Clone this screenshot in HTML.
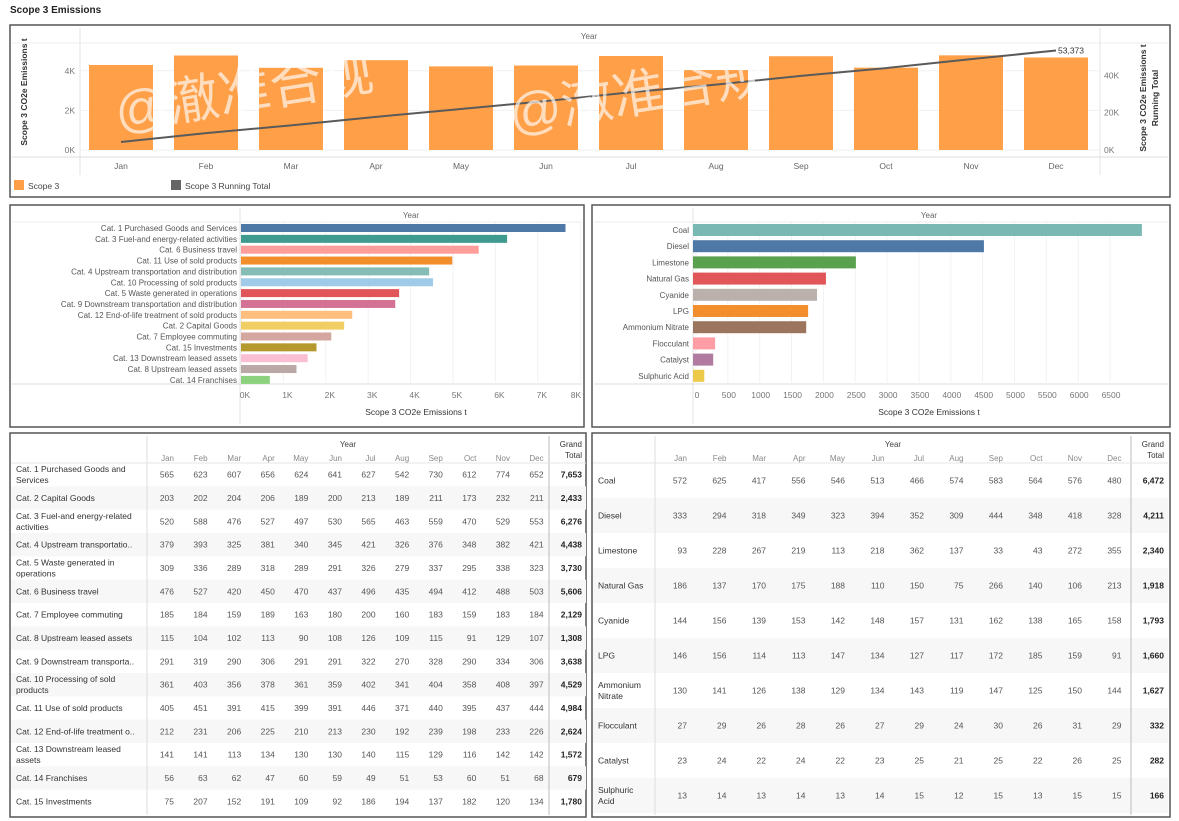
<!DOCTYPE html>
<html><head><meta charset="utf-8">
<style>
html,body{margin:0;padding:0;background:#fff;}
svg{display:block;font-family:"Liberation Sans","Noto Sans CJK SC",sans-serif;}
</style></head>
<body>
<svg id="s" width="1179" height="821" viewBox="0 0 1179 821">
<text x="10" y="13" font-size="10" font-weight="bold" fill="#222">Scope 3 Emissions</text>
</svg>
<script>
const months = ['Jan','Feb','Mar','Apr','May','Jun','Jul','Aug','Sep','Oct','Nov','Dec'];
const catLabels = ['Cat. 1 Purchased Goods and\nServices','Cat. 2 Capital Goods','Cat. 3 Fuel-and energy-related\nactivities','Cat. 4 Upstream transportatio..','Cat. 5 Waste generated in\noperations','Cat. 6 Business travel','Cat. 7 Employee commuting','Cat. 8 Upstream leased assets','Cat. 9 Downstream transporta..','Cat. 10 Processing of sold\nproducts','Cat. 11 Use of sold products','Cat. 12 End-of-life treatment o..','Cat. 13 Downstream leased\nassets','Cat. 14 Franchises','Cat. 15 Investments'];
const catValues = [
[565,623,607,656,624,641,627,542,730,612,774,652],
[203,202,204,206,189,200,213,189,211,173,232,211],
[520,588,476,527,497,530,565,463,559,470,529,553],
[379,393,325,381,340,345,421,326,376,348,382,421],
[309,336,289,318,289,291,326,279,337,295,338,323],
[476,527,420,450,470,437,496,435,494,412,488,503],
[185,184,159,189,163,180,200,160,183,159,183,184],
[115,104,102,113,90,108,126,109,115,91,129,107],
[291,319,290,306,291,291,322,270,328,290,334,306],
[361,403,356,378,361,359,402,341,404,358,408,397],
[405,451,391,415,399,391,446,371,440,395,437,444],
[212,231,206,225,210,213,230,192,239,198,233,226],
[141,141,113,134,130,130,140,115,129,116,142,142],
[56,63,62,47,60,59,49,51,53,60,51,68],
[75,207,152,191,109,92,186,194,137,182,120,134]];
const catTotals = ['7,653','2,433','6,276','4,438','3,730','5,606','2,129','1,308','3,638','4,529','4,984','2,624','1,572','679','1,780'];
const barCats = ['Cat. 1 Purchased Goods and Services','Cat. 3 Fuel-and energy-related activities','Cat. 6 Business travel','Cat. 11 Use of sold products','Cat. 4 Upstream transportation and distribution','Cat. 10 Processing of sold products','Cat. 5 Waste generated in operations','Cat. 9 Downstream transportation and distribution','Cat. 12 End-of-life treatment of sold products','Cat. 2 Capital Goods','Cat. 7 Employee commuting','Cat. 15 Investments','Cat. 13 Downstream leased assets','Cat. 8 Upstream leased assets','Cat. 14 Franchises'];
const barCatValues = [7653,6276,5606,4984,4438,4529,3730,3638,2624,2433,2129,1780,1572,1308,679];
const barCatColors = ['#4e79a7','#3f9a8f','#ff9d9a','#f28e2b','#86bcb6','#a0cbe8','#e15759','#d37295','#ffbe7d','#f1ce63','#d4a6a0','#b6992d','#fabfd2','#b9a8a5','#8cd17d'];
const catTicks = ['0K','1K','2K','3K','4K','5K','6K','7K','8K'];
const fuelLabels = ['Coal','Diesel','Limestone','Natural Gas','Cyanide','LPG','Ammonium\nNitrate','Flocculant','Catalyst','Sulphuric\nAcid'];
const fuelBarLabels = ['Coal','Diesel','Limestone','Natural Gas','Cyanide','LPG','Ammonium Nitrate','Flocculant','Catalyst','Sulphuric Acid'];
const fuelBarValues = [7000,4520,2510,2040,1900,1760,1730,300,270,130];
const fuelColors = ['#7ab8b3','#4e79a7','#59a14f','#e15759','#bab0ac','#f28e2b','#9c755f','#ff9da7','#b07aa1','#edc948'];
const fuelTicks = [0,500,1000,1500,2000,2500,3000,3500,4000,4500,5000,5500,6000,6500];
const fuelValues = [
[572,625,417,556,546,513,466,574,583,564,576,480],
[333,294,318,349,323,394,352,309,444,348,418,328],
[93,228,267,219,113,218,362,137,33,43,272,355],
[186,137,170,175,188,110,150,75,266,140,106,213],
[144,156,139,153,142,148,157,131,162,138,165,158],
[146,156,114,113,147,134,127,117,172,185,159,91],
[130,141,126,138,129,134,143,119,147,125,150,144],
[27,29,26,28,26,27,29,24,30,26,31,29],
[23,24,22,24,22,23,25,21,25,22,26,25],
[13,14,13,14,13,14,15,12,15,13,15,15]];
const fuelTotals = ['6,472','4,211','2,340','1,918','1,793','1,660','1,627','332','282','166'];
const topTicksLeft = ['0K','2K','4K'];
const topTicksRight = ['0K','20K','40K'];

const NS='http://www.w3.org/2000/svg';
const svg=document.getElementById('s');
function mk(tag,attrs,parent){const e=document.createElementNS(NS,tag);for(const k in attrs)e.setAttribute(k,attrs[k]);(parent||svg).appendChild(e);return e;}
function txt(x,y,s,size,fill,anchor,weight){const e=mk('text',{x:x,y:y,'font-size':size,fill:fill,'text-anchor':anchor||'start','font-weight':weight||'normal'});
 const lines=String(s).split('\n');if(lines.length==1){e.textContent=s;}else{lines.forEach((l,i)=>{const t=mk('tspan',{x:x,dy:i==0?-(lines.length-1)*5.5:11},e);t.textContent=l;});}return e;}
function line(x1,y1,x2,y2,c,w){return mk('line',{x1:x1,y1:y1,x2:x2,y2:y2,stroke:c,'stroke-width':w||1});}

[[10,25,1160,172,'top-panel'],[10,205,574,222,'category-chart-panel'],[592,205,578,222,'fuel-chart-panel'],[10,433,576,384,'category-table-panel'],[592,433,578,384,'fuel-table-panel']].forEach(p=>{
 const r=mk('rect',{x:p[0],y:p[1],width:p[2],height:p[3],fill:'#fff',stroke:'#555','stroke-width':1.5});
 
 
});

// top chart
const monthTotals = months.map((m,i)=>catValues.reduce((a,r)=>a+r[i],0));
const yL = v=>150 - v/1000*19.8;
const yR = v=>150 - v/1000*1.865;
const xM = i=>121 + i*85;
line(80,28,80,175,'#e3e3e3');line(1100,28,1100,175,'#e3e3e3');
line(12,43,1168,43,'#ececec');line(12,157,1168,157,'#ddd');
[0,2000,4000].forEach(v=>line(80,yL(v),1100,yL(v),'#f0f0f0'));
txt(589,39,'Year',8,'#666','middle');
topTicksLeft.forEach((t,i)=>txt(75,yL(i*2000)+3,t,8.5,'#777','end'));
topTicksRight.forEach((t,i)=>txt(1104,yR(i*20000)+3,t,8.5,'#777','start'));
const lt=txt(0,0,'Scope 3 CO2e Emissions t',8.5,'#333','middle','bold');lt.setAttribute('transform','translate(27,92) rotate(-90)');
const rt1=txt(0,0,'Scope 3 CO2e Emissions t',8.5,'#333','middle','bold');rt1.setAttribute('transform','translate(1146,98) rotate(-90)');
const rt2=txt(0,0,'Running Total',8.5,'#333','middle','bold');rt2.setAttribute('transform','translate(1158,98) rotate(-90)');
let run=0;const pts=[];
monthTotals.forEach((v,i)=>{
 const b=mk('rect',{x:xM(i)-32,y:yL(v),width:64,height:150-yL(v),fill:'#ff9f47'});
 
 
 const t=txt(xM(i),169,months[i],8.5,'#666','middle');
 
 
 run+=v;pts.push([xM(i),yR(run)]);
});
const pl=mk('polyline',{points:pts.map(p=>p.join(',')).join(' '),fill:'none',stroke:'#5a5a5a','stroke-width':2});


txt(pts[11][0]+2,pts[11][1]+3,run.toLocaleString('en-US'),8.5,'#333','start');
[[118,130,'@澈准合规'],[512,132,'@澈准合规']].forEach(w=>{
 const t=txt(0,0,w[2],52,'#fff','start');t.setAttribute('transform','translate('+w[0]+','+w[1]+') rotate(-9)');t.setAttribute('opacity','0.65');
 
 
});
const l1=mk('rect',{x:14,y:180,width:10,height:10,fill:'#ff9f47'});


txt(28,189,'Scope 3',8.5,'#444');
const l2=mk('rect',{x:171,y:180,width:10,height:10,fill:'#666'});


txt(185,189,'Scope 3 Running Total',8.5,'#444');

// category bar chart
const xC = v=>241 + v/1000*42.4;
line(240,208,240,424,'#e3e3e3');line(12,222,582,222,'#ececec');line(12,384,582,384,'#ddd');
txt(411,218,'Year',8,'#666','middle');
catTicks.forEach((t,i)=>{line(xC(i*1000),222,xC(i*1000),384,'#f2f2f2');txt(Math.min(xC(i*1000)+4,576),398,t,8.5,'#777','middle');});
txt(416,415,'Scope 3 CO2e Emissions t',8.5,'#333','middle');
barCats.forEach((c,i)=>{
 const y=224+i*10.85;
 const b=mk('rect',{x:241,y:y,width:xC(barCatValues[i])-241,height:8,fill:barCatColors[i]});
 
 
 txt(237,y+7,c,8,'#555','end');
});

// fuel bar chart
const xF = v=>696 + v/1000*63.7;
line(693,208,693,424,'#e3e3e3');line(594,222,1168,222,'#ececec');line(594,384,1168,384,'#ddd');
txt(929,218,'Year',8,'#666','middle');
fuelTicks.forEach(t=>{line(xF(t),222,xF(t),384,'#f2f2f2');txt(xF(t)+1,398,t,8.5,'#777','middle');});
txt(929,415,'Scope 3 CO2e Emissions t',8.5,'#333','middle');
fuelBarLabels.forEach((c,i)=>{
 const y=224+i*16.2;
 const b=mk('rect',{x:693,y:y,width:xF(fuelBarValues[i])-693,height:12,fill:fuelColors[i]});
 
 
 txt(689,y+9,c,8,'#555','end');
});

// tables
function table(x0,labelW,colX,colStep,gtX,sepX,rowH,labels,vals,totals,name){
 const y0=463;
 labels.forEach((l,i)=>{
  if(i%2==1){mk('rect',{x:x0+1,y:y0+i*rowH,width:(gtX+4)-x0-1,height:rowH,fill:'#f7f7f7'});}
 });
 line(labelW,436,labelW,815,'#ddd');line(sepX,436,sepX,815,'#bbb');
 line(x0+1,y0,gtX+4,y0,'#e5e5e5');
 txt((labelW+sepX)/2,447,'Year',8,'#444','middle');
 months.forEach((m,j)=>txt(colX+j*colStep+6,461,m,8,'#888','end'));
 txt(gtX,447,'Grand',8,'#333','end');txt(gtX,458,'Total',8,'#333','end');
 labels.forEach((l,i)=>{
  const cy=y0+i*rowH+rowH/2+3;
  const t=txt(x0+6,cy,l,8.5,'#333','start','normal');
  
  
  vals[i].forEach((v,j)=>txt(colX+j*colStep+6,cy,v,8.5,'#555','end'));
  txt(gtX,cy,totals[i],8.5,'#222','end','bold');
 });
}
table(10,147,168,33.6,582,549,23.33,catLabels,catValues,catTotals,'category-table');
table(592,655,681,39.5,1164,1131,35,fuelLabels,fuelValues,fuelTotals,'fuel-table');
</script>
</body></html>
